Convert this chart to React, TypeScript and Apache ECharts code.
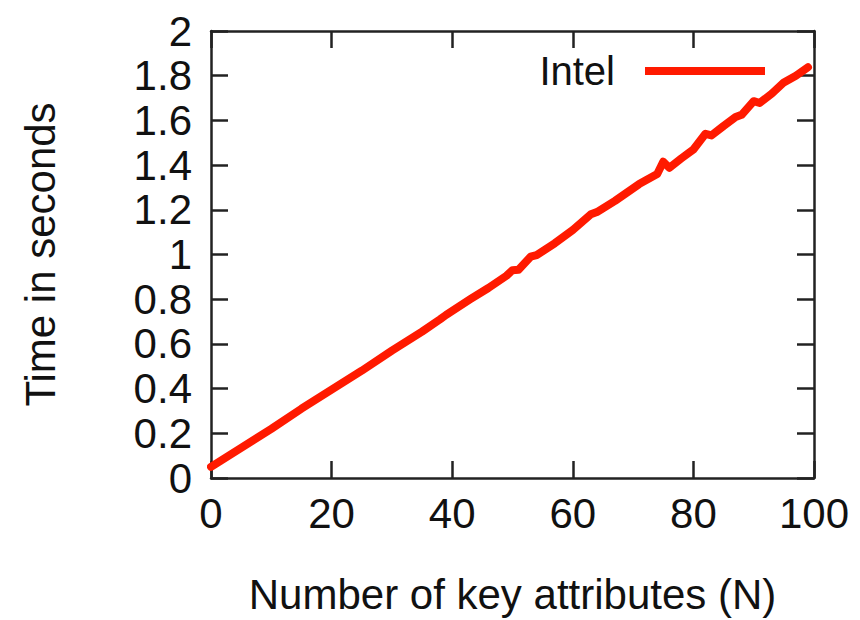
import React, { useEffect, useRef } from "react";
import * as echarts from "echarts";

const keyAttributes = [0, 5, 10, 15, 20, 25, 30, 35, 38, 39, 43, 46, 49, 50, 51, 53, 54, 57, 60, 63, 64, 67, 71, 74, 75, 76, 78, 80, 82, 83, 85, 87, 88, 90, 91, 93, 95, 97, 99];
const intelSeconds = [0.05, 0.135, 0.22, 0.31, 0.395, 0.48, 0.57, 0.655, 0.71, 0.73, 0.8, 0.85, 0.905, 0.93, 0.932, 0.99, 0.997, 1.05, 1.11, 1.18, 1.19, 1.24, 1.315, 1.36, 1.415, 1.388, 1.43, 1.47, 1.54, 1.533, 1.575, 1.615, 1.625, 1.686, 1.678, 1.72, 1.77, 1.8, 1.838];
const seriesName = "Intel";
const xTitle = "Number of key attributes (N)";
const yTitle = "Time in seconds";

const FONT = "'Liberation Sans', Arial, Helvetica, sans-serif";
const RED = "#ff1a00";
const AXIS = "#222";
const TEXT = "#111";
const FS = 42;

export default function App() {
  const ref = useRef<HTMLDivElement>(null);
  useEffect(() => {
    if (!ref.current) return;
    const chart = echarts.init(ref.current, undefined, { renderer: "svg" });
    const axisCommon = {
      axisLine: { show: true, onZero: false, lineStyle: { color: AXIS, width: 2.5 } },
      axisTick: { show: true, inside: true, length: 17, lineStyle: { color: AXIS, width: 2.5 } },
      splitLine: { show: false },
    };
    chart.setOption({
      animation: false,
      backgroundColor: "#fff",
      grid: { left: 211, right: 46, top: 31, bottom: 129, containLabel: false },
      legend: {
        show: true,
        data: [seriesName],
        right: 90,
        top: 46,
        align: "right",
        icon: "rect",
        itemWidth: 120,
        itemHeight: 8,
        textStyle: { fontFamily: FONT, fontSize: 40, color: TEXT, padding: [0, 25, 0, 0] },
      },
      xAxis: [
        {
          type: "value",
          position: "bottom",
          min: 0,
          max: 100,
          interval: 20,
          name: xTitle,
          nameLocation: "middle",
          nameGap: 95,
          nameTextStyle: { fontFamily: FONT, fontSize: FS, color: TEXT },
          axisLabel: { fontFamily: FONT, fontSize: FS, color: TEXT, margin: 14 },
          ...axisCommon,
        },
        {
          type: "value",
          position: "top",
          min: 0,
          max: 100,
          interval: 20,
          axisLabel: { show: false },
          ...axisCommon,
        },
      ],
      yAxis: [
        {
          type: "value",
          position: "left",
          min: 0,
          max: 2,
          interval: 0.2,
          name: yTitle,
          nameLocation: "middle",
          nameGap: 150,
          nameRotate: 90,
          nameTextStyle: { fontFamily: FONT, fontSize: FS, color: TEXT },
          axisLabel: {
            fontFamily: FONT,
            fontSize: FS,
            color: TEXT,
            margin: 19,
            formatter: (v: number) => String(+v.toFixed(1)),
          },
          ...axisCommon,
        },
        {
          type: "value",
          position: "right",
          min: 0,
          max: 2,
          interval: 0.2,
          axisLabel: { show: false },
          ...axisCommon,
        },
      ],
      series: [
        {
          name: seriesName,
          type: "line",
          xAxisIndex: 0,
          yAxisIndex: 0,
          data: keyAttributes.map((x, i) => [x, intelSeconds[i]]),
          showSymbol: false,
          symbol: "none",
          lineStyle: { color: RED, width: 8, join: "round", cap: "round" },
          itemStyle: { color: RED },
        },
      ],
    });
    return () => chart.dispose();
  }, []);
  return (
    <div
      ref={ref}
      style={{ position: "absolute", left: 0, top: 0, width: 860, height: 620 }}
    />
  );
}
